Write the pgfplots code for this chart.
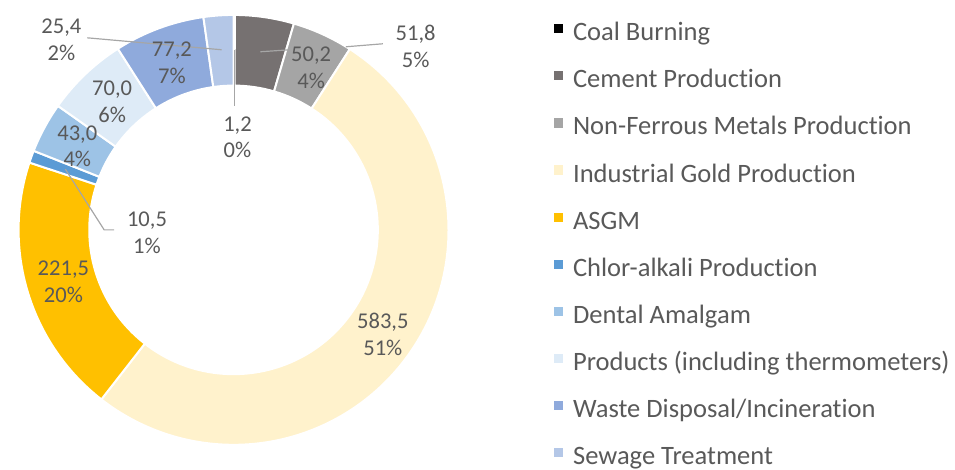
\documentclass[border=0pt]{standalone}
\usepackage{pgfplots}
\pgfplotsset{compat=1.18}
\usepackage{pgfplotstable}
\usepackage{fontspec}
\setmainfont{Carlito}[Ligatures={NoCommon}]
\definecolor{slice0}{HTML}{000000}
\definecolor{slice1}{HTML}{767171}
\definecolor{slice2}{HTML}{A5A5A5}
\definecolor{slice3}{HTML}{FFF2CC}
\definecolor{slice4}{HTML}{FFC000}
\definecolor{slice5}{HTML}{5B9BD5}
\definecolor{slice6}{HTML}{9DC3E6}
\definecolor{slice7}{HTML}{DEEBF7}
\definecolor{slice8}{HTML}{8FAADC}
\definecolor{slice9}{HTML}{B4C7E7}
\definecolor{labelgray}{HTML}{595959}
\definecolor{leadergray}{HTML}{A6A6A6}
\pgfplotstableread{
source value
Coal 1.2
Cement 50.2
NonFerrous 51.8
Gold 583.5
ASGM 221.5
Chlor 10.5
Dental 43.0
Products 70.0
Waste 77.2
Sewage 25.4
}\mercury
\pgfplotstablegetrowsof{\mercury}%
\pgfmathtruncatemacro{\lastrow}{\pgfplotsretval-1}%
\def\cumsum{0}%
\pgfplotsforeachungrouped \i in {0,...,\lastrow}{%
  \pgfplotstablegetelem{\i}{value}\of\mercury
  \pgfmathsetmacro{\newcum}{\cumsum+\pgfplotsretval}%
  \expandafter\xdef\csname cumA\i\endcsname{\cumsum}%
  \expandafter\xdef\csname cumB\i\endcsname{\newcum}%
  \global\let\cumsum\newcum
}%
\let\total\cumsum
\pgfplotsforeachungrouped \i in {0,...,\lastrow}{%
  \pgfmathsetmacro{\tmpA}{90-(\csname cumA\i\endcsname/\total)*360}%
  \expandafter\xdef\csname angA\i\endcsname{\tmpA}%
  \pgfmathsetmacro{\tmpB}{90-(\csname cumB\i\endcsname/\total)*360}%
  \expandafter\xdef\csname angB\i\endcsname{\tmpB}%
}%
\begin{document}
\begin{tikzpicture}
\begin{axis}[
  x=0.75pt, y=0.75pt, xmin=0, xmax=955, ymin=0, ymax=466,
  hide axis, clip=false,
  legend image code/.code={\fill[#1] (0pt,1.6pt) rectangle (6.9pt,8.5pt);},
  legend style={at={(axis cs:552,442)}, anchor=north west, draw=none, fill=none,
    font=\fontsize{20pt}{24pt}\selectfont, text=labelgray, inner sep=0pt,
    row sep=19pt, column sep=7.3pt,
    nodes={inner sep=0pt, text height=12pt, text depth=4pt}},
  legend cell align=left,
]
\path (axis cs:0,0) rectangle (axis cs:955,466);
\pgfplotsinvokeforeach{0,...,9}{
  \fill[fill=slice#1, draw=white, line width=1.5pt, line join=round]
    (axis cs:230,235) ++(\csname angA#1\endcsname:162pt)
    arc[start angle=\csname angA#1\endcsname, end angle=\csname angB#1\endcsname, radius=162pt]
    -- ++(\csname angB#1\endcsname:-53.25pt)
    arc[start angle=\csname angB#1\endcsname, end angle=\csname angA#1\endcsname, radius=108.75pt]
    -- cycle;
}
\addlegendimage{fill=slice0, draw=none}
\addlegendimage{fill=slice1, draw=none}
\addlegendimage{fill=slice2, draw=none}
\addlegendimage{fill=slice3, draw=none}
\addlegendimage{fill=slice4, draw=none}
\addlegendimage{fill=slice5, draw=none}
\addlegendimage{fill=slice6, draw=none}
\addlegendimage{fill=slice7, draw=none}
\addlegendimage{fill=slice8, draw=none}
\addlegendimage{fill=slice9, draw=none}
\legend{Coal Burning, Cement Production, Non-Ferrous Metals Production,
  Industrial Gold Production, ASGM, Chlor-alkali Production, Dental Amalgam,
  Products (including thermometers), Waste Disposal/Incineration, Sewage Treatment}
% leader lines
\draw[leadergray, line width=0.9pt] (axis cs:83,428) -- (axis cs:218,416);
\draw[leadergray, line width=0.9pt] (axis cs:231,416) -- (axis cs:231,359);
\draw[leadergray, line width=0.9pt] (axis cs:257,414) -- (axis cs:287,416);
\draw[leadergray, line width=0.9pt] (axis cs:343,419) -- (axis cs:380,422);
\draw[leadergray, line width=0.9pt] (axis cs:61,296) -- (axis cs:100,235) -- (axis cs:110,235);
% data labels
\begin{scope}[every node/.style={align=center, text=labelgray, inner sep=0pt,
    font=\fontsize{17pt}{20.25pt}\selectfont}]
\node at (axis cs:57,426) {25,4\\2\%};
\node at (axis cs:168,403) {77,2\\7\%};
\node at (axis cs:108,364) {70,0\\6\%};
\node at (axis cs:73,319) {43,0\\4\%};
\node at (axis cs:234,328) {1,2\\0\%};
\node at (axis cs:308,398) {50,2\\4\%};
\node at (axis cs:413,419) {51,8\\5\%};
\node at (axis cs:143,232) {10,5\\1\%};
\node at (axis cs:59,183) {221,5\\20\%};
\node at (axis cs:380,130) {583,5\\51\%};
\end{scope}
\end{axis}
\end{tikzpicture}
\end{document}
